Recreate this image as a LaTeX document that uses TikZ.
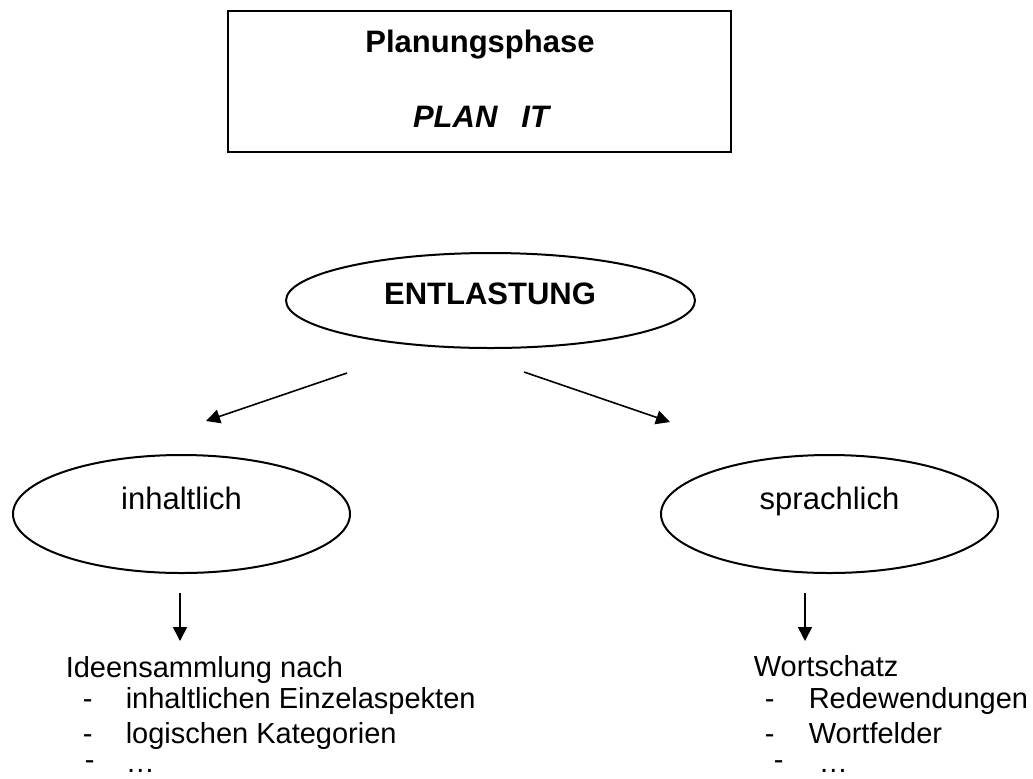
\documentclass[tikz,border=0pt]{standalone}
\usepackage{fontspec}
\setmainfont{Liberation Sans}
\usetikzlibrary{positioning,shapes,arrows.meta}

\tikzset{
  oval/.style={draw, ellipse, line width=1pt, inner sep=0pt},
  head/.style={anchor=base, inner sep=0pt, font=\bfseries\fontsize{15.5}{18}\selectfont},
  word/.style={anchor=base, inner sep=0pt, font=\fontsize{15.5}{18}\selectfont},
  item/.style={anchor=base west, inner sep=0pt, text height=9pt, text depth=2.5pt, font=\fontsize{14.5}{17}\selectfont},
}

\begin{document}
\begin{tikzpicture}[x=0.5pt, y=-0.5pt, >={Triangle[length=7pt,width=7pt]}, line width=0.8pt]
\useasboundingbox (0,0) rectangle (1033,778);

% top box
\node[draw, rectangle, line width=1pt, minimum width=251.5pt, minimum height=70.5pt] (plan) at (479.5,81.5) {};
\node[head] (phase) at (480,52) {Planungsphase};
\node[head] (planit) at (481,127) {\itshape PLAN\hspace{12pt}IT};

% ellipses
\node[oval, minimum width=204.5pt, minimum height=47.5pt] (entl) at (490.5,300.5) {};
\node[head] (entltxt) at (490,304) {ENTLASTUNG};
\node[oval, minimum width=168.5pt, minimum height=59pt] (inh) at (181.5,514) {};
\node[word] (inhtxt) at (181.5,509) {inhaltlich};
\node[oval, minimum width=168.5pt, minimum height=59pt] (spr) at (829.5,514) {};
\node[word] (sprtxt) at (829.5,509) {sprachlich};

\coordinate (l1) at (347,373);
\coordinate (l2) at (206,421);
\coordinate (r1) at (524,372);
\coordinate (r2) at (670,422);
\coordinate (ld1) at (180,593);
\coordinate (ld2) at (180,641);
\coordinate (rd1) at (805,593);
\coordinate (rd2) at (805,641);

\draw[->] (l1) -- (l2);
\draw[->] (r1) -- (r2);
\draw[->] (ld1) -- (ld2);
\draw[->] (rd1) -- (rd2);

% left list
\node[item] (ideen) at (65,677) {Ideensammlung nach};
\node[item] (ld) at (82,708) {-};
\node[item] (la) at (125,708) {inhaltlichen Einzelaspekten};
\node[item] (le) at (82,743) {-};
\node[item] (lb) at (125,743) {logischen Kategorien};
\node[item] (lf) at (84,769) {-};
\node[item] (lc) at (125,772) {…};

% right list
\node[item] (wort) at (753,676) {Wortschatz};
\node[item] (rd) at (764,708) {-};
\node[item] (ra) at (808,708) {Redewendungen};
\node[item] (re) at (764,743) {-};
\node[item] (rb) at (808,743) {Wortfelder};
\node[item] (rf) at (773,769) {-};
\node[item] (rc) at (818,772) {…};
\end{tikzpicture}
\end{document}
